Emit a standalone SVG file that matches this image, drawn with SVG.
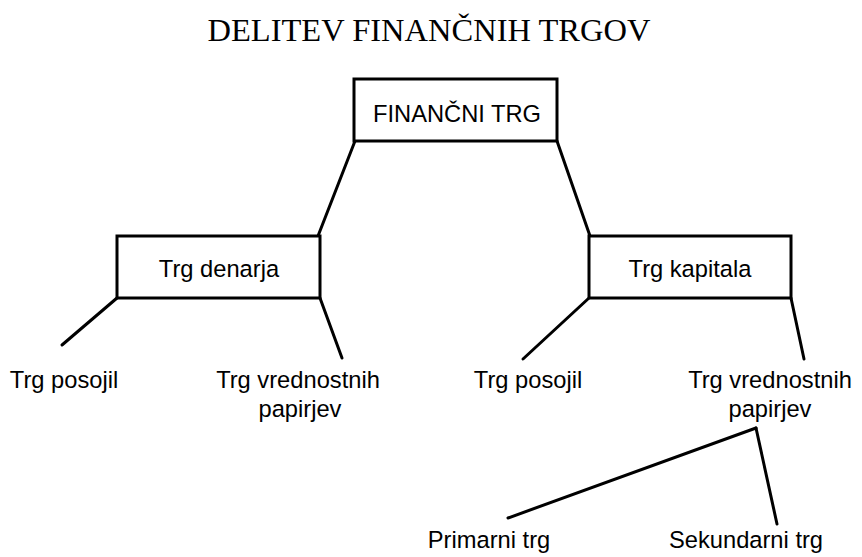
<svg xmlns="http://www.w3.org/2000/svg" width="862" height="557" viewBox="0 0 862 557">
<style>
.box{fill:#fff;stroke:#000;stroke-width:3}
.lbl{font-family:"Liberation Sans",Arial,sans-serif;font-size:23.7px;fill:#000;text-anchor:middle}
.ttl{font-family:"Liberation Serif","Times New Roman",serif;font-size:32.5px;fill:#000;text-anchor:middle}
.con line{stroke:#000;stroke-width:3;stroke-linecap:round}
</style>
<rect width="862" height="557" fill="#fff"/>
<text class="ttl" x="429" y="41">DELITEV FINANČNIH TRGOV</text>
<g id="connectors" class="con">
<line x1="355" y1="141" x2="318" y2="236"/>
<line x1="557" y1="141" x2="590" y2="236"/>
<line x1="117" y1="298" x2="62" y2="345"/>
<line x1="320" y1="298" x2="342" y2="358"/>
<line x1="589" y1="298" x2="523" y2="359"/>
<line x1="791" y1="298" x2="804" y2="359"/>
<line x1="756" y1="428" x2="508" y2="518"/>
<line x1="756" y1="428" x2="777" y2="524"/>
</g>
<g id="financni-trg">
<rect class="box" x="354" y="79" width="203" height="62"/>
<text class="lbl" x="457" y="122">FINANČNI TRG</text>
</g>
<g id="trg-denarja">
<rect class="box" x="117" y="236" width="203" height="62"/>
<text class="lbl" x="219" y="277">Trg denarja</text>
</g>
<g id="trg-kapitala">
<rect class="box" x="589" y="236" width="202" height="62"/>
<text class="lbl" x="690" y="277">Trg kapitala</text>
</g>
<g id="trg-posojil-1">
<text class="lbl" x="64" y="388">Trg posojil</text>
</g>
<g id="trg-vp-1">
<text class="lbl" x="298" y="388">Trg vrednostnih</text>
<text class="lbl" x="300" y="417">papirjev</text>
</g>
<g id="trg-posojil-2">
<text class="lbl" x="528" y="388">Trg posojil</text>
</g>
<g id="trg-vp-2">
<text class="lbl" x="770" y="388">Trg vrednostnih</text>
<text class="lbl" x="770" y="417">papirjev</text>
</g>
<g id="primarni-trg">
<text class="lbl" x="489" y="548">Primarni trg</text>
</g>
<g id="sekundarni-trg">
<text class="lbl" x="746" y="548">Sekundarni trg</text>
</g>
</svg>
